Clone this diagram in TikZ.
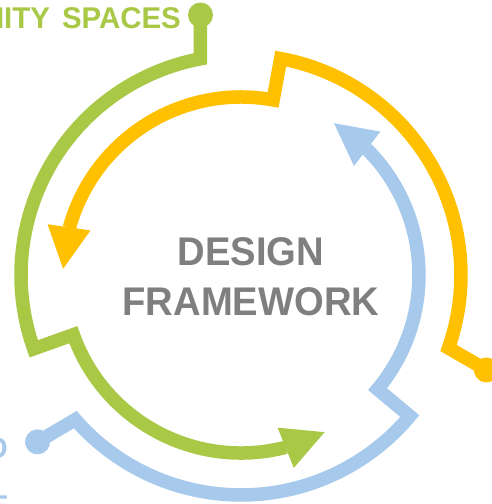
\documentclass[tikz,border=0pt]{standalone}
\usepackage{fontspec}
\setmainfont{Liberation Sans}
\definecolor{cgreen}{HTML}{A8C846}
\definecolor{corange}{HTML}{FFC000}
\definecolor{cblue}{HTML}{A6C9EC}
\definecolor{cgray}{HTML}{7F7F7F}
\tikzset{
  band/.style={line width=13.5pt, line join=miter, miter limit=10},
  bigtext/.style={anchor=base, inner sep=0pt, text=cgray, font=\fontsize{40}{48}\selectfont\bfseries},
  sidetext/.style={anchor=base east, inner sep=0pt, font=\fontsize{30}{36}\selectfont\bfseries},
}
\newcommand\cyclearrow[2]{%
  \begin{scope}[rotate=#1]
    \fill[#2] (-40.5,260) circle (12.5);
    \draw[band,#2] (-40.5,260) -- (-40.5,216.2)
      arc[start angle=100.61, end angle=199.6, radius=220]
      -- (199.6:178)
      arc[start angle=199.6, end angle=284.6, radius=178];
    \fill[#2] (283.5:157) -- (298:178) -- (285.3:200) -- cycle;
  \end{scope}}
\begin{document}
\begin{tikzpicture}[x=1pt, y=1pt]
  \clip (-241,-229) rectangle (251,275);
  \fill[white] (-241,-229) rectangle (251,275);
  \cyclearrow{0}{cgreen}
  \cyclearrow{-120}{corange}
  \cyclearrow{120.5}{cblue}
  \node[bigtext] (design) at (10,10) {\scalebox{0.955}[1]{DESIGN}};
  \node[bigtext] (framework) at (10,-40) {\scalebox{0.955}[1]{FRAMEWORK}};
  \node[sidetext, text=cgreen] (community) at (-60,247) {\scalebox{0.98}[1]{COMMUNITY\hspace{4pt} SPACES}};
  \node[sidetext, text=cblue] (bluea) at (-233,-183) {\scalebox{0.94}[1]{D}};
  \node[sidetext, text=cblue] (blueb) at (-232,-241) {\scalebox{0.94}[1]{E}};
\end{tikzpicture}
\end{document}
